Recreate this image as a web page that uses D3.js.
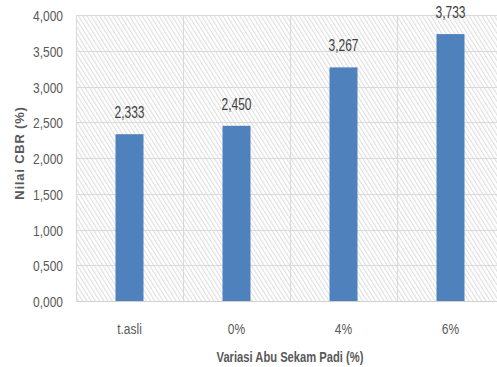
<!DOCTYPE html>
<html>
<head>
<meta charset="utf-8">
<script src="https://cdn.jsdelivr.net/npm/d3@7"></script>
<style>
  html, body { margin: 0; padding: 0; background: #fff; }
  svg { display: block; }
</style>
</head>
<body>
<svg id="chart" width="497" height="367"></svg>
<script>
// CBR values for each rice husk ash variation
const categories = ["t.asli", "0%", "4%", "6%"];
const cbrValues = [2.333, 2.450, 3.267, 3.733];
const yTicks = [0, 0.5, 1, 1.5, 2, 2.5, 3, 3.5, 4];
const xTitle = "Variasi Abu Sekam Padi (%)";
const yTitle = "Nilai CBR (%)";

const font = "'Liberation Sans', Arial, sans-serif";
const squeeze = 0.8; // horizontal condensing of label glyphs
const textColor = "#595959";

const svg = d3.select("#chart");
const plot = { left: 76, right: 504, top: 15, bottom: 301 };

const x = d3.scaleBand().domain(categories).range([plot.left, plot.right]).paddingInner(0).paddingOuter(0);
const y = d3.scaleLinear().domain([0, 4]).range([plot.bottom, plot.top]);

const fmt = v => d3.format(".3f")(v).replace(".", ",");

// diagonal hatch fill for the plot area
const defs = svg.append("defs");
const pat = defs.append("pattern")
  .attr("id", "hatch")
  .attr("patternUnits", "userSpaceOnUse")
  .attr("width", 3.6).attr("height", 4)
  .attr("patternTransform", "rotate(-32)");
pat.append("rect").attr("width", 3.6).attr("height", 4).attr("fill", "#fff");
pat.append("line").attr("x1", 0.6).attr("y1", 0).attr("x2", 0.6).attr("y2", 4)
  .attr("stroke", "#dcdcdc").attr("stroke-width", 1);

svg.append("rect")
  .attr("x", plot.left).attr("y", plot.top)
  .attr("width", plot.right - plot.left).attr("height", plot.bottom - plot.top)
  .attr("fill", "url(#hatch)");

// horizontal gridlines
svg.append("g").selectAll("line").data(yTicks).join("line")
  .attr("x1", plot.left).attr("x2", plot.right)
  .attr("y1", d => Math.round(y(d)) + 0.5).attr("y2", d => Math.round(y(d)) + 0.5)
  .attr("stroke", "#d9d9d9").attr("stroke-width", 1);

// vertical gridlines at category boundaries
const bounds = categories.map(c => x(c)).concat([plot.right]);
svg.append("g").selectAll("line").data(bounds).join("line")
  .attr("x1", d => Math.round(d) + 0.5).attr("x2", d => Math.round(d) + 0.5)
  .attr("y1", plot.top).attr("y2", plot.bottom)
  .attr("stroke", "#d9d9d9").attr("stroke-width", 1);

// bars
const barW = 28;
svg.append("g").selectAll("rect").data(cbrValues).join("rect")
  .attr("x", (d, i) => x(categories[i]) + x.bandwidth() / 2 - barW / 2)
  .attr("y", d => y(d))
  .attr("width", barW)
  .attr("height", d => y(0) - y(d))
  .attr("fill", "#4f81bd");

// value labels
svg.append("g").selectAll("text").data(cbrValues).join("text")
  .attr("transform", (d, i) =>
    `translate(${x(categories[i]) + x.bandwidth() / 2},${y(d) - 16}) scale(0.75,1)`)
  .attr("text-anchor", "middle")
  .attr("font-family", font).attr("font-size", 16)
  .attr("fill", "#404040")
  .text(fmt);

// bottom axis line
svg.append("line")
  .attr("x1", plot.left).attr("x2", plot.right)
  .attr("y1", plot.bottom + 0.5).attr("y2", plot.bottom + 0.5)
  .attr("stroke", "#d0d0d0").attr("stroke-width", 1);

// y axis
const yAxis = d3.axisLeft(y).tickValues(yTicks).tickFormat(fmt).tickSize(0).tickPadding(0);
const gy = svg.append("g").attr("transform", `translate(${plot.left},0)`).call(yAxis);
gy.select(".domain").remove();
gy.selectAll("text")
  .attr("x", 0).attr("dy", null)
  .attr("transform", `translate(-13,5.5) scale(${squeeze},1)`)
  .attr("font-family", font).attr("font-size", 15).attr("fill", textColor);

// x axis
const xAxis = d3.axisBottom(x).tickSize(0).tickPadding(0);
const gx = svg.append("g").attr("transform", `translate(0,${plot.bottom})`).call(xAxis);
gx.select(".domain").remove();
gx.selectAll("text")
  .attr("y", 0).attr("dy", null)
  .attr("transform", `translate(0,33) scale(${squeeze},1)`)
  .attr("font-family", font).attr("font-size", 15).attr("fill", textColor);

// axis titles
svg.append("text")
  .attr("transform", `translate(${(plot.left + plot.right) / 2},362) scale(${squeeze},1)`)
  .attr("text-anchor", "middle")
  .attr("font-family", font).attr("font-size", 14).attr("font-weight", "bold")
  .attr("fill", textColor)
  .text(xTitle);

svg.append("text")
  .attr("transform", `translate(24,153) rotate(-90)`)
  .attr("text-anchor", "middle")
  .attr("font-family", font).attr("font-size", 13).attr("font-weight", "bold")
  .attr("letter-spacing", 0.8)
  .attr("fill", textColor)
  .text(yTitle);
</script>
</body>
</html>
